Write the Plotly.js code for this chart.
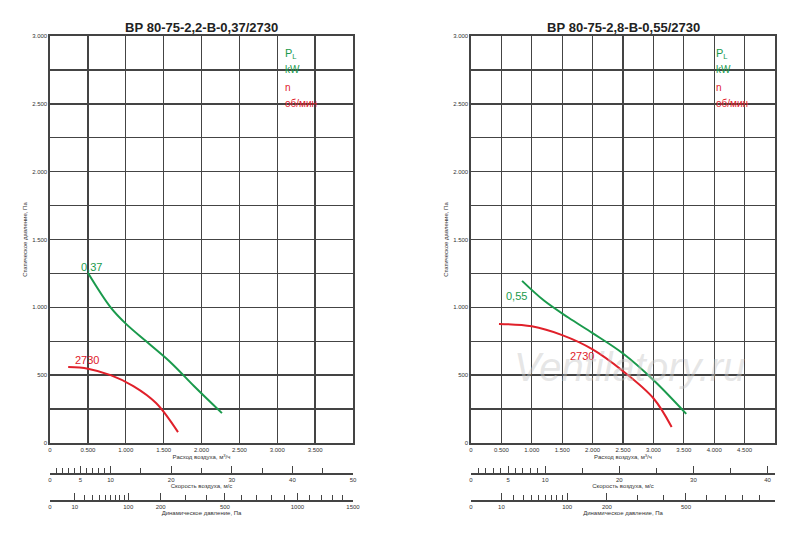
<!DOCTYPE html>
<html><head><meta charset="utf-8">
<script src="https://cdn.plot.ly/plotly-3.0.1.min.js"></script>
<style>body{margin:0}#chart{width:800px;height:540px}</style>
</head><body><div id="chart"></div>
<script>
// left fan: ВР 80-75-2,2
const leftPowerQ = [500, 800, 1000, 1300, 1600, 1900, 2270];
const leftPowerP = [1255, 1000, 880, 735, 590, 420, 220];
const leftSpeedQ = [240, 500, 800, 1100, 1400, 1690];
const leftSpeedP = [560, 548, 500, 420, 295, 80];
// right fan: ВР 80-75-2,8
const rightPowerQ = [840, 1200, 1600, 2000, 2500, 3000, 3540];
const rightPowerP = [1195, 1050, 925, 810, 660, 465, 215];
const rightSpeedQ = [460, 1000, 1500, 2000, 2500, 3000, 3300];
const rightSpeedP = [878, 860, 795, 690, 530, 330, 118];

const yTicks = [0,250,500,750,1000,1250,1500,1750,2000,2250,2500,2750,3000];
const yText = ['0','','500','','1.000','','1.500','','2.000','','2.500','','3.000'];
const leftXTicks = [0,500,1000,1500,2000,2500,3000,3500];
const rightXTicks = [0,500,1000,1500,2000,2500,3000,3500,4000,4500];
const fmt = v => v === 0 ? '0' : (v/1000).toFixed(3);

const leftVelMajor = [0,5,10,20,30,40,50];
const leftVelMinor = [1,2,3,4,6,7,8,9,15,25,35,45];
const rightVelMajor = [0,5,10,20,30,40];
const rightVelMinor = [1,2,3,4,6,7,8,9,15,25,35];
const leftDynMajor = [0,10,100,200,500,1000,1500];
const leftDynMinor = [20,30,40,50,60,70,80,90,300,400,600,700,800,900,1100,1200,1300,1400];
const rightDynMajor = [0,10,100,200,500];
const rightDynMinor = [20,30,40,50,60,70,80,90,300,400,600,700,800,900];

const GREEN = '#1a9a4c', RED = '#e0202a', GRID = '#444';
const font = {family: 'Liberation Sans, Arial', size: 6, color: '#333'};

const data = [
  {x: leftPowerQ, y: leftPowerP, xaxis: 'x', yaxis: 'y', mode: 'lines', line: {color: GREEN, width: 2, shape: 'spline'}},
  {x: leftSpeedQ, y: leftSpeedP, xaxis: 'x', yaxis: 'y', mode: 'lines', line: {color: RED, width: 2, shape: 'spline'}},
  {x: rightPowerQ, y: rightPowerP, xaxis: 'x2', yaxis: 'y2', mode: 'lines', line: {color: GREEN, width: 2, shape: 'spline'}},
  {x: rightSpeedQ, y: rightSpeedP, xaxis: 'x2', yaxis: 'y2', mode: 'lines', line: {color: RED, width: 2, shape: 'spline'}}
];
// empty carriers so the extra scale axes get drawn
[['x3','y'],['x4','y'],['x5','y2'],['x6','y2']].forEach(([xa, ya]) =>
  data.push({x: [0], y: [-1000], xaxis: xa, yaxis: ya, mode: 'markers', marker: {opacity: 0}, hoverinfo: 'skip'}));

const LD = [50/800, 353/800], RD = [471/800, 775/800], YD = [1-443/540, 1-36/540];

function mainX(dom, ticks, max, anchor){
  return {domain: dom, range: [0, max], anchor: anchor, tickvals: ticks, ticktext: ticks.map(fmt),
    showgrid: true, gridcolor: GRID, gridwidth: 1.4, showline: true, linecolor: GRID, linewidth: 1.6,
    mirror: true, zeroline: false, ticks: '', tickfont: font,
    title: {text: 'Расход воздуха, м<sup>3</sup>/ч', font: font, standoff: 2}};
}
function mainY(dom, anchor){
  return {domain: dom, range: [0, 3000], anchor: anchor, tickvals: yTicks, ticktext: yText,
    showgrid: true, gridcolor: GRID, gridwidth: 1.4, showline: true, linecolor: GRID, linewidth: 1.6,
    mirror: true, zeroline: false, ticks: '', tickfont: font,
    title: {text: 'Статическое давление, Па', font: font, standoff: 4}};
}
function scaleAx(dom, over, max, pos, major, minor, title, tf){
  return {domain: dom, overlaying: over, anchor: 'free', position: pos, range: [0, tf(max)],
    tickvals: major.map(tf), ticktext: major.map(String), ticks: 'inside', ticklen: 7, tickwidth: 1,
    tickcolor: GRID, showline: true, linecolor: GRID, linewidth: 1.5, showgrid: false, zeroline: false,
    tickfont: font, minor: {tickvals: minor.map(tf), ticks: 'inside', ticklen: 5, tickcolor: GRID, showgrid: false},
    title: {text: title, font: font, standoff: 0}};
}
const lin = v => v, sq = v => Math.sqrt(v);

const ann = (x, y, xr, yr, text, color, size) => ({x, y, xref: xr, yref: yr, text, showarrow: false,
  font: {family: 'Liberation Sans Narrow, Liberation Sans, Arial', size: size, color: color}, xanchor: 'left'});
const legend = (xr, yr, x) => [
  ann(x, 2870, xr, yr, 'P<sub>L</sub>', GREEN, 11),
  ann(x, 2750, xr, yr, 'kW', GREEN, 10),
  ann(x, 2620, xr, yr, 'n', RED, 10),
  ann(x, 2500, xr, yr, 'об/мин', RED, 10)
];

const layout = {
  width: 800, height: 540, margin: {l: 0, r: 0, t: 0, b: 0}, showlegend: false,
  paper_bgcolor: 'white', plot_bgcolor: 'white',
  xaxis: mainX(LD, leftXTicks, 4000, 'y'),
  yaxis: mainY(YD, 'x'),
  xaxis2: mainX(RD, rightXTicks, 5000, 'y2'),
  yaxis2: mainY(YD, 'x2'),
  xaxis3: scaleAx(LD, 'x', 50, 1-473/540, leftVelMajor, leftVelMinor, 'Скорость воздуха, м/с', lin),
  xaxis4: scaleAx(LD, 'x', 1500, 1-500/540, leftDynMajor, leftDynMinor, 'Динамическое давление, Па', sq),
  xaxis5: scaleAx(RD, 'x2', 41, 1-473/540, rightVelMajor, rightVelMinor, 'Скорость воздуха, м/с', lin),
  xaxis6: scaleAx(RD, 'x2', 1000, 1-500/540, rightDynMajor, rightDynMinor, 'Динамическое давление, Па', sq),
  annotations: [
    {x: 0.5*(LD[0]+LD[1]), y: 1-18/540, xref: 'paper', yref: 'paper', xanchor: 'center', text: '<b>ВР 80-75-2,2-В-0,37/2730</b>', showarrow: false, font: {family: 'Liberation Sans, Arial', size: 13, color: '#222'}},
    {x: 0.5*(RD[0]+RD[1]), y: 1-18/540, xref: 'paper', yref: 'paper', xanchor: 'center', text: '<b>ВР 80-75-2,8-В-0,55/2730</b>', showarrow: false, font: {family: 'Liberation Sans, Arial', size: 13, color: '#222'}},
    ...legend('x', 'y', 3080),
    ...legend('x2', 'y2', 4000),
    ann(380, 1300, 'x', 'y', '0,37', GREEN, 11),
    ann(300, 610, 'x', 'y', '2730', RED, 11),
    ann(540, 1080, 'x2', 'y2', '0,55', GREEN, 11),
    ann(1600, 640, 'x2', 'y2', '2730', RED, 11),
    {x: 2600, y: 560, xref: 'x2', yref: 'y2', text: '<i>Ventilatory.ru</i>', showarrow: false,
     font: {family: 'Liberation Sans, Arial', size: 40, color: 'rgba(200,200,200,0.45)'}}
  ]
};

Plotly.newPlot('chart', data, layout, {displayModeBar: false, staticPlot: true});
</script></body></html>
